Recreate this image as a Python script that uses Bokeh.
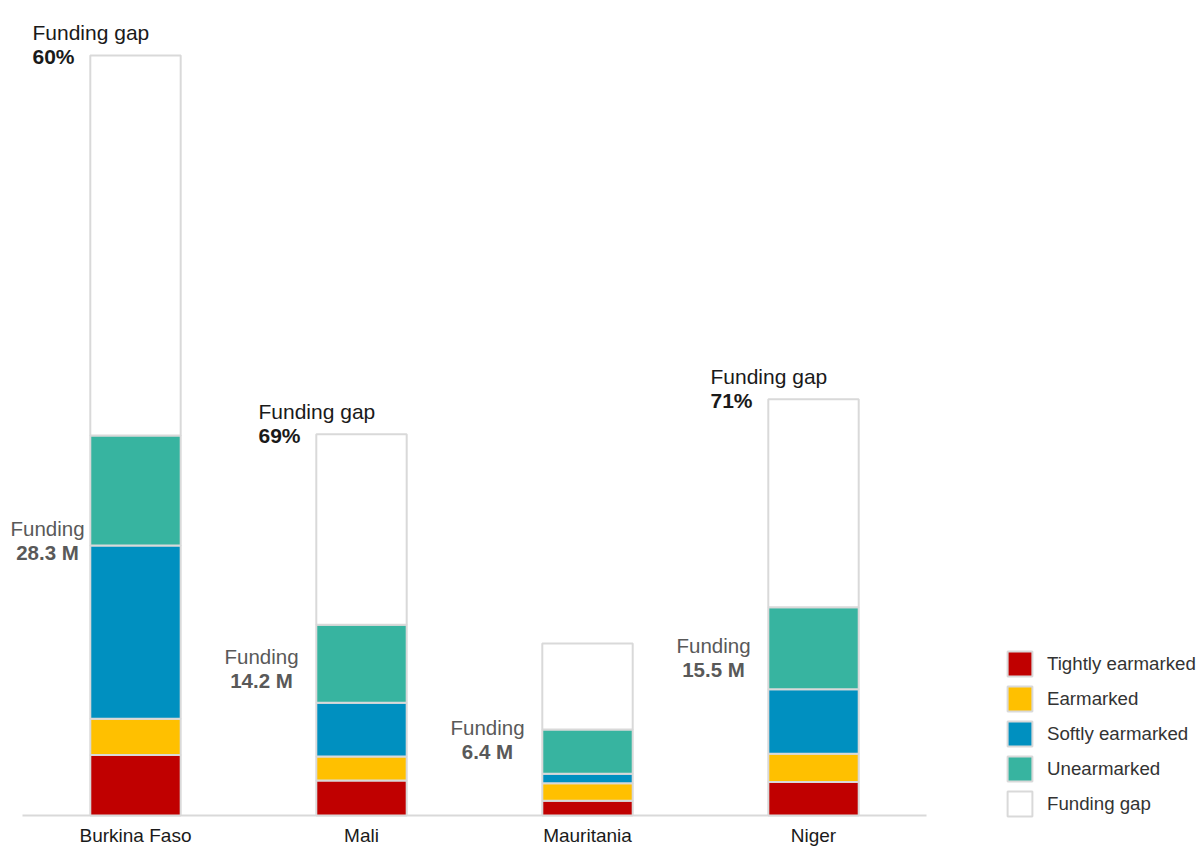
from bokeh.plotting import figure
from bokeh.models import ColumnDataSource, Range1d, Legend, LegendItem, Label
from bokeh.embed import file_html
from bokeh.resources import INLINE

# ---- data (US$ millions) ----
countries = ["Burkina Faso", "Mali", "Mauritania", "Niger"]
tightly = [4.5, 2.6, 1.1, 2.5]
earmarked = [2.7, 1.8, 1.3, 2.1]
softly = [12.9, 4.0, 0.7, 4.8]
unearmarked = [8.2, 5.8, 3.3, 6.1]
gap = [28.3, 14.2, 6.4, 15.5]
funding_text = ["28.3 M", "14.2 M", "6.4 M", "15.5 M"]
gap_pct = ["60%", "69%", "", "71%"]

series = ["Tightly earmarked", "Earmarked", "Softly earmarked", "Unearmarked", "Funding gap"]
colors = ["#C00000", "#FFC000", "#0090C0", "#37B4A0", "#FFFFFF"]
keys = ["tightly", "earmarked", "softly", "unearmarked", "gap"]

FONT = "Liberation Sans"
PX_PER_UNIT = 13.428
Y_MIN = -2 / PX_PER_UNIT
Y_MAX = 815 / PX_PER_UNIT
PAD = 0.0973
PX_PER_CAT = 226

funding = [a + b + c + d for a, b, c, d in zip(tightly, earmarked, softly, unearmarked)]
totals = [f + g for f, g in zip(funding, gap)]

src = ColumnDataSource(dict(country=countries, tightly=tightly, earmarked=earmarked,
                            softly=softly, unearmarked=unearmarked, gap=gap))

p = figure(x_range=countries, y_range=Range1d(Y_MIN, Y_MAX),
           frame_width=948, frame_height=817,
           min_border_left=0, min_border_top=0, min_border_bottom=0, min_border_right=253,
           output_backend="svg", toolbar_location=None, y_axis_location=None,
           background_fill_color="white", border_fill_color="white")
p.x_range.range_padding = PAD
p.x_range.range_padding_units = "absolute"
p.outline_line_color = None
p.xgrid.grid_line_color = None
p.ygrid.grid_line_color = None

# baseline spanning the category domain
p.segment(x0=[0], y0=[0], x1=[len(countries)], y1=[0], line_color="#D9D9D9", line_width=2)

renderers = p.vbar_stack(keys, x="country", width=0.4, source=src,
                         fill_color=colors, line_color="#D9D9D9", line_width=2)

ax = p.xaxis[0]
ax.axis_line_color = None
ax.major_tick_line_color = None
ax.minor_tick_line_color = None
ax.major_label_text_font = FONT
ax.major_label_text_font_size = "19px"
ax.major_label_text_color = "#1A1A1A"
ax.major_label_standoff = 1


def add_label(x, y, text, dx, dy, align, size, bold, color):
    p.add_layout(Label(x=x, y=y, text=text, x_offset=dx, y_offset=dy,
                       text_align=align, text_baseline="middle",
                       text_font=FONT, text_font_size=size,
                       text_font_style="bold" if bold else "normal",
                       text_color=color))


# categorical synthetic coordinate of each factor's centre
xc = {c: i + 0.5 for i, c in enumerate(countries)}

# Funding labels (left of each bar), kept inside the left edge
for c, f, t in zip(countries, funding, funding_text):
    ly = 0.678 * f + 2.18
    dx = max(-100, 47 - (xc[c] + PAD) * PX_PER_CAT)
    add_label(xc[c], ly, "Funding", dx, 0, "center", "20.5px", False, "#595959")
    add_label(xc[c], ly, t, dx, -24, "center", "20.5px", True, "#595959")

# Funding gap labels (above-left of each bar)
for c, tot, pct in zip(countries, totals, gap_pct):
    if pct:
        add_label(xc[c], tot, "Funding gap", -103, 23, "left", "21px", False, "#1A1A1A")
        add_label(xc[c], tot, pct, -103, -1, "left", "21px", True, "#1A1A1A")

legend = Legend(items=[LegendItem(label=s, renderers=[r]) for s, r in zip(series, renderers)],
                location=(56, -2), orientation="vertical",
                glyph_width=31, glyph_height=31, spacing=4, label_standoff=12,
                padding=10, margin=0, border_line_color=None, background_fill_alpha=0,
                label_text_font=FONT, label_text_font_size="18.7px", label_text_color="#333333")
p.add_layout(legend, "right")

open("out.html", "w").write(file_html(p, INLINE))
